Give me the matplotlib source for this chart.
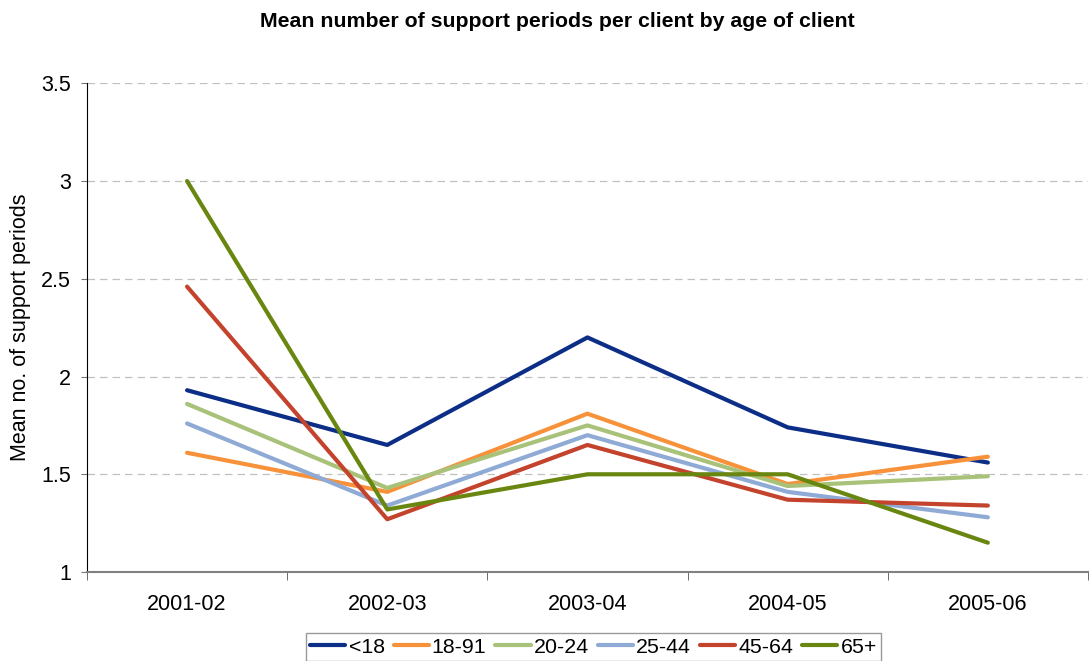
import matplotlib.pyplot as plt
import numpy as np

plt.rcParams['font.family'] = ['Liberation Sans', 'DejaVu Sans']

# Datos
years = ['2001-02', '2002-03', '2003-04', '2004-05', '2005-06']
age_groups = ['<18', '18-91', '20-24', '25-44', '45-64', '65+']
under_18 = [1.93, 1.65, 2.20, 1.74, 1.56]
age_18_91 = [1.61, 1.41, 1.81, 1.45, 1.59]
age_20_24 = [1.86, 1.43, 1.75, 1.44, 1.49]
age_25_44 = [1.76, 1.34, 1.70, 1.41, 1.28]
age_45_64 = [2.46, 1.27, 1.65, 1.37, 1.34]
age_65_plus = [3.00, 1.32, 1.50, 1.50, 1.15]

series = [under_18, age_18_91, age_20_24, age_25_44, age_45_64, age_65_plus]
colors = ['#0c2e87', '#f7923a', '#a9c27a', '#8eaad5', '#c3432c', '#698710']

fig = plt.figure(figsize=(10.91, 6.61), dpi=100)
ax = fig.add_axes([0.0797, 0.1346, 0.9175, 0.7394])

x = np.arange(len(years))
for label, values, color in zip(age_groups, series, colors):
    ax.plot(x, values, color=color, linewidth=3.0, label=label, solid_capstyle='round')

ax.set_xlim(-0.5, len(years) - 0.5)
ax.set_ylim(1, 3.5)
ax.set_yticks([1, 1.5, 2, 2.5, 3, 3.5])
ax.set_yticklabels(['1', '1.5', '2', '2.5', '3', '3.5'])
ax.set_xticks(x)
ax.set_xticklabels(years)
ax.set_xticks(np.arange(-0.5, len(years)), minor=True)
ax.tick_params(axis='x', which='major', length=0, pad=16, labelsize=15.5)
ax.tick_params(axis='x', which='minor', length=6, color='#555555', direction='out')
ax.tick_params(axis='y', length=4.5, color='#777777', labelsize=15.5, pad=7)

ax.grid(axis='y', linestyle=(0, (6, 4)), color='#c0c0c0', linewidth=0.9)
ax.set_axisbelow(True)
for side in ['top', 'right']:
    ax.spines[side].set_visible(False)
ax.spines['left'].set_color('black')
ax.spines['bottom'].set_color('#808080')
ax.spines['bottom'].set_linewidth(1.5)

# Etiqueta del eje y y título como texto de la figura
fig.text(20.5 / 1091, 0.505, 'Mean no. of support periods', rotation=90,
         ha='center', va='center', fontsize=15.5)
fig.text(0.511, 0.967, 'Mean number of support periods per client by age of client',
         ha='center', va='center', fontsize=15.3, fontweight='bold')

leg = fig.legend(loc='upper center', bbox_to_anchor=(0.544, 0.042), ncol=6,
                 fontsize=15.4, frameon=True, fancybox=False, handlelength=1.64,
                 handletextpad=0.15, columnspacing=0.42, borderpad=0.2,
                 borderaxespad=0)
leg.get_frame().set_edgecolor('#808080')
leg.get_frame().set_linewidth(1.0)

plt.savefig('out.png', dpi=100)
plt.close()
